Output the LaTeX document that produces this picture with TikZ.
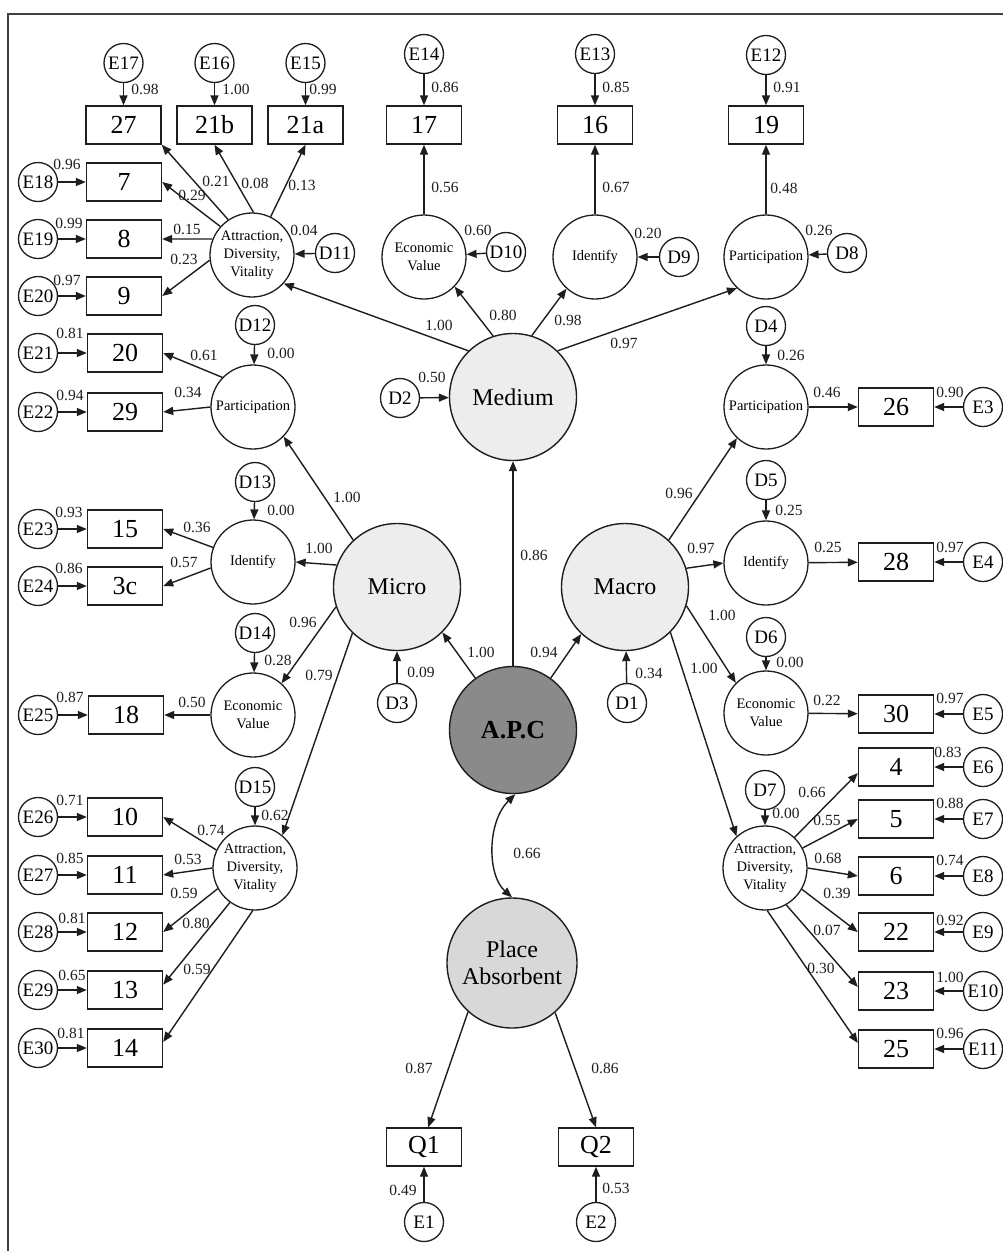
\documentclass[tikz,border=0pt]{standalone}
\usepackage{fontspec}
\setmainfont{Liberation Serif}
\usetikzlibrary{arrows.meta}
\definecolor{lightg}{HTML}{EDEDED}
\definecolor{pag}{HTML}{D8D8D8}
\definecolor{apcg}{HTML}{8A8A8A}
\definecolor{ink}{HTML}{1E1E1E}
\begin{document}
\begin{tikzpicture}[x=1pt,y=-1pt,
  obs/.style={draw=ink, rectangle, minimum width=75pt, minimum height=38pt, inner sep=0pt, line width=1.4pt, font=\fontsize{26}{28}\selectfont},
  sml/.style={draw=ink, circle, minimum size=39pt, inner sep=0pt, line width=1.3pt, font=\fontsize{19}{21}\selectfont},
  lat/.style={draw=ink, circle, minimum size=84pt, inner sep=0pt, line width=1.3pt, align=center, font=\fontsize{14.5}{18}\selectfont},
  big/.style={draw=ink, circle, minimum size=127pt, inner sep=0pt, line width=1.4pt, align=center, fill=lightg, font=\fontsize{24}{27}\selectfont},
  cf/.style={inner sep=0pt, text=ink, font=\fontsize{15.5}{17}\selectfont},
  arr/.style={draw=ink, -{Triangle[length=10pt,width=8pt]}, line width=1.4pt},
]
\fill[white] (0,0) rectangle (1003,1251);
\useasboundingbox (0,0) rectangle (1003,1251);
\draw[line width=2pt, draw=black!75] (8,1251) -- (8,14) -- (1003,14);

% ---------- top row ----------
\node[sml] (E17) at (123.5,63) {E17};
\node[sml] (E16) at (214.5,63) {E16};
\node[sml] (E15) at (305.5,63) {E15};
\node[sml] (E14) at (424,54) {E14};
\node[sml] (E13) at (595,54) {E13};
\node[sml] (E12) at (766,55) {E12};
\node[obs] (b27) at (123.5,125) {27};
\node[obs] (b21b) at (214.5,125) {21b};
\node[obs] (b21a) at (305.5,125) {21a};
\node[obs] (b17) at (424,125) {17};
\node[obs] (b16) at (595,125) {16};
\node[obs] (b19) at (766,125) {19};

\node[lat] (adv1) at (252,255) {Attraction,\\Diversity,\\Vitality};
\node[lat] (ecoM) at (424,257) {Economic\\Value};
\node[lat] (idM) at (595,257) {Identify};
\node[lat] (parM) at (766,257) {Participation};
\node[sml] (D11) at (335,253) {D11};
\node[sml] (D10) at (506,252) {D10};
\node[sml] (D9) at (679,257) {D9};
\node[sml] (D8) at (847,253) {D8};

% ---------- left column ----------
\node[sml] (E18) at (38,182) {E18};
\node[sml] (E19) at (38,239) {E19};
\node[sml] (E20) at (38,296) {E20};
\node[obs] (b7) at (124,182) {7};
\node[obs] (b8) at (124,239) {8};
\node[obs] (b9) at (124,296) {9};

\node[sml] (D12) at (255,325) {D12};
\node[lat] (parL) at (253,407) {Participation};
\node[obs] (b20) at (125,353) {20};
\node[obs] (b29) at (125,412) {29};
\node[sml] (E21) at (38,353) {E21};
\node[sml] (E22) at (38,412) {E22};

\node[sml] (D13) at (255,482) {D13};
\node[lat] (idL) at (253,562) {Identify};
\node[obs] (b15) at (125,529) {15};
\node[obs] (b3c) at (125,586) {3c};
\node[sml] (E23) at (38,529) {E23};
\node[sml] (E24) at (38,586) {E24};

\node[sml] (D14) at (255,633) {D14};
\node[lat] (ecoL) at (253,715) {Economic\\Value};
\node[obs] (b18) at (126,715) {18};
\node[sml] (E25) at (38,715) {E25};

\node[sml] (D15) at (255,787) {D15};
\node[lat] (adv2) at (255,868) {Attraction,\\Diversity,\\Vitality};
\node[obs] (b10) at (125,817) {10};
\node[obs] (b11) at (125,875) {11};
\node[obs] (b12) at (125,932) {12};
\node[obs] (b13) at (125,990) {13};
\node[obs] (b14) at (125,1048) {14};
\node[sml] (E26) at (38,817) {E26};
\node[sml] (E27) at (38,875) {E27};
\node[sml] (E28) at (38,932) {E28};
\node[sml] (E29) at (38,990) {E29};
\node[sml] (E30) at (38,1048) {E30};

% ---------- right column ----------
\node[sml] (D4) at (766,326) {D4};
\node[lat] (parR) at (766,407) {Participation};
\node[obs] (b26) at (896,407) {26};
\node[sml] (E3) at (983,407) {E3};

\node[sml] (D5) at (766,480) {D5};
\node[lat] (idR) at (766,563) {Identify};
\node[obs] (b28) at (896,562) {28};
\node[sml] (E4) at (983,562) {E4};

\node[sml] (D6) at (766,637) {D6};
\node[lat] (ecoR) at (766,713) {Economic\\Value};
\node[obs] (b30) at (896,714) {30};
\node[sml] (E5) at (983,714) {E5};

\node[sml] (D7) at (765,790) {D7};
\node[lat] (adv3) at (765,868) {Attraction,\\Diversity,\\Vitality};
\node[obs] (b4) at (896,767) {4};
\node[obs] (b5) at (896,819) {5};
\node[obs] (b6) at (896,876) {6};
\node[obs] (b22) at (896,932) {22};
\node[obs] (b23) at (896,991) {23};
\node[obs] (b25) at (896,1049) {25};
\node[sml] (E6) at (983,767) {E6};
\node[sml] (E7) at (983,819) {E7};
\node[sml] (E8) at (983,876) {E8};
\node[sml] (E9) at (983,932) {E9};
\node[sml] (E10) at (983,991) {E10};
\node[sml] (E11) at (983,1049) {E11};

% ---------- centre ----------
\node[big] (Med) at (513,397) {Medium};
\node[sml] (D2) at (400,398) {D2};
\node[big] (Mic) at (397,587) {Micro};
\node[big] (Mac) at (625,587) {Macro};
\node[sml] (D3) at (397,703) {D3};
\node[sml] (D1) at (627,703) {D1};
\node[big, fill=apcg, font=\fontsize{26}{28}\selectfont\bfseries] (APC) at (513,730) {A.P.C};
\node[big, fill=pag, minimum size=130pt] (PA) at (512,963) {Place\\Absorbent};
\node[obs] (Q1) at (424,1147) {Q1};
\node[obs] (Q2) at (596,1147) {Q2};
\node[sml] (E1) at (424,1222) {E1};
\node[sml] (E2) at (596,1222) {E2};

% ---------- connectors ----------
\foreach \a/\b in {E17/b27,E16/b21b,E15/b21a,E14/b17,E13/b16,E12/b19,
  ecoM/b17,idM/b16,parM/b19,D11/adv1,D10/ecoM,D9/idM,D8/parM,
  E18/b7,E19/b8,E20/b9,E21/b20,E22/b29,E23/b15,E24/b3c,E25/b18,
  E26/b10,E27/b11,E28/b12,E29/b13,E30/b14,
  D12/parL,D13/idL,D14/ecoL,D15/adv2,
  D4/parR,D5/idR,D6/ecoR,D7/adv3,
  parR/b26,E3/b26,idR/b28,E4/b28,ecoR/b30,E5/b30,
  E6/b4,E7/b5,E8/b6,E9/b22,E10/b23,E11/b25,
  D2/Med,D3/Mic,D1/Mac,E1/Q1,E2/Q2}
  \draw[arr] (\a) -- (\b);

\draw[arr] (adv1.124) -- (b27.south east);
\draw[arr] (adv1.88) -- (b21b.south);
\draw[arr] (adv1.64) -- (b21a.south);
\draw[arr] (adv1.138) -- (b7.east);
\draw[arr] (adv1.158) -- (b8.east);
\draw[arr] (adv1.187) -- (b9.east);

\draw[arr] (parL.136) -- (b20.east);
\draw[arr] (parL.west) -- (b29.east);
\draw[arr] (idL.160) -- (b15.east);
\draw[arr] (idL.188) -- (b3c.east);
\draw[arr] (ecoL.west) -- (b18.east);
\draw[arr] (adv2.155) -- (b10.east);
\draw[arr] (adv2.west) -- (b11.east);
\draw[arr] (adv2.209) -- (b12.east);
\draw[arr] (adv2.234) -- (b13.8);
\draw[arr] (adv2.267) -- (b14.9);

\draw[arr] (adv3.46) -- (b4.189);
\draw[arr] (adv3.28) -- (b5.west);
\draw[arr] (adv3.east) -- (b6.west);
\draw[arr] (adv3.-30) -- (b22.west);
\draw[arr] (adv3.-60) -- (b23.174);
\draw[arr] (adv3.-87) -- (b25.171);

\draw[arr] (Med.134) -- (adv1.318);
\draw[arr] (Med.108) -- (ecoM.316);
\draw[arr] (Med.73) -- (idM.228);
\draw[arr] (Med.46) -- (parM.227);

\draw[arr] (Mic.133) -- (parL.316);
\draw[arr] (Mic.160) -- (idL.east);
\draw[arr] (Mic.198) -- (ecoL.48);
\draw[arr] (Mic.226) -- (adv2.50);

\draw[arr] (Mac.47) -- (parR.227);
\draw[arr] (Mac.17) -- (idR.west);
\draw[arr] (Mac.-17) -- (ecoR.135);
\draw[arr] (Mac.-45) -- (adv3.132);

\draw[arr] (APC.north) -- (Med.south);
\draw[arr] (APC.126) -- (Mic.315);
\draw[arr] (APC.54) -- (Mac.227);

\draw[draw=ink, line width=1.4pt, {Triangle[length=10pt,width=8pt]}-{Triangle[length=10pt,width=8pt]}]
  (PA.north) .. controls (487,875) and (487,822) .. (APC.272);

\draw[arr] (PA.228) -- (Q1.78);
\draw[arr] (PA.311) -- (Q2.north);

% ---------- coefficients ----------
\node[cf] (c1) at (145,89) {0.98};
\node[cf] (c2) at (236,89) {1.00};
\node[cf] (c3) at (323,89) {0.99};
\node[cf] (c4) at (445,87) {0.86};
\node[cf] (c5) at (616,87) {0.85};
\node[cf] (c6) at (787,87) {0.91};
\node[cf] (c7) at (445,187) {0.56};
\node[cf] (c8) at (616,187) {0.67};
\node[cf] (c9) at (784,188) {0.48};
\node[cf] (c10) at (478,230) {0.60};
\node[cf] (c11) at (648,233) {0.20};
\node[cf] (c12) at (819,230) {0.26};
\node[cf] (c13) at (304,230) {0.04};
\node[cf] (c14) at (216,181) {0.21};
\node[cf] (c15) at (255,183) {0.08};
\node[cf] (c16) at (302,185) {0.13};
\node[cf] (c17) at (192,195) {0.29};
\node[cf] (c18) at (187,229) {0.15};
\node[cf] (c19) at (184,259) {0.23};
\node[cf] (c20) at (67,164) {0.96};
\node[cf] (c21) at (69,223) {0.99};
\node[cf] (c22) at (67,280) {0.97};

\node[cf] (c23) at (70,333) {0.81};
\node[cf] (c24) at (70,395) {0.94};
\node[cf] (c25) at (69,512) {0.93};
\node[cf] (c26) at (69,568) {0.86};
\node[cf] (c27) at (204,355) {0.61};
\node[cf] (c28) at (188,392) {0.34};
\node[cf] (c29) at (197,527) {0.36};
\node[cf] (c30) at (184,562) {0.57};
\node[cf] (c31) at (281,353) {0.00};
\node[cf] (c32) at (281,510) {0.00};
\node[cf] (c33) at (319,548) {1.00};

\node[cf] (c34) at (70,697) {0.87};
\node[cf] (c35) at (192,702) {0.50};
\node[cf] (c36) at (278,660) {0.28};
\node[cf] (c37) at (303,622) {0.96};
\node[cf] (c38) at (319,675) {0.79};
\node[cf] (c39) at (275,815) {0.62};
\node[cf] (c40) at (70,800) {0.71};
\node[cf] (c41) at (70,858) {0.85};
\node[cf] (c42) at (211,830) {0.74};
\node[cf] (c43) at (188,859) {0.53};
\node[cf] (c44) at (184,893) {0.59};
\node[cf] (c45) at (196,923) {0.80};
\node[cf] (c46) at (72,918) {0.81};
\node[cf] (c47) at (72,975) {0.65};
\node[cf] (c48) at (71,1033) {0.81};
\node[cf] (c49) at (197,969) {0.59};

\node[cf] (c50) at (439,325) {1.00};
\node[cf] (c51) at (503,315) {0.80};
\node[cf] (c52) at (568,320) {0.98};
\node[cf] (c53) at (624,343) {0.97};
\node[cf] (c54) at (432,377) {0.50};
\node[cf] (c55) at (347,497) {1.00};
\node[cf] (c56) at (534,555) {0.86};
\node[cf] (c57) at (679,493) {0.96};
\node[cf] (c58) at (701,548) {0.97};

\node[cf] (c59) at (791,355) {0.26};
\node[cf] (c60) at (827,392) {0.46};
\node[cf] (c61) at (950,392) {0.90};
\node[cf] (c62) at (789,510) {0.25};
\node[cf] (c63) at (828,547) {0.25};
\node[cf] (c64) at (950,547) {0.97};

\node[cf] (c65) at (481,652) {1.00};
\node[cf] (c66) at (544,652) {0.94};
\node[cf] (c67) at (421,672) {0.09};
\node[cf] (c68) at (649,673) {0.34};
\node[cf] (c69) at (722,615) {1.00};
\node[cf] (c70) at (704,668) {1.00};
\node[cf] (c71) at (790,662) {0.00};
\node[cf] (c72) at (827,700) {0.22};
\node[cf] (c73) at (950,698) {0.97};
\node[cf] (c74) at (948,752) {0.83};
\node[cf] (c75) at (786,813) {0.00};
\node[cf] (c76) at (812,792) {0.66};
\node[cf] (c77) at (827,820) {0.55};
\node[cf] (c78) at (950,803) {0.88};
\node[cf] (c79) at (828,858) {0.68};
\node[cf] (c80) at (950,860) {0.74};
\node[cf] (c81) at (837,893) {0.39};
\node[cf] (c82) at (827,930) {0.07};
\node[cf] (c83) at (950,920) {0.92};
\node[cf] (c84) at (821,968) {0.30};
\node[cf] (c85) at (950,977) {1.00};
\node[cf] (c86) at (950,1033) {0.96};

\node[cf] (c87) at (527,853) {0.66};
\node[cf] (c88) at (419,1068) {0.87};
\node[cf] (c89) at (605,1068) {0.86};
\node[cf] (c90) at (403,1190) {0.49};
\node[cf] (c91) at (616,1188) {0.53};
\end{tikzpicture}
\end{document}
